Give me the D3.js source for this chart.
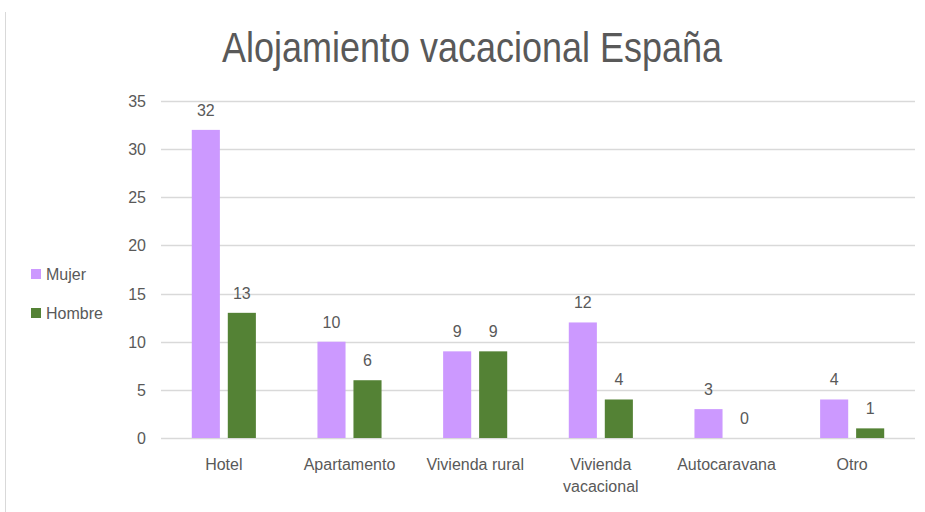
<!DOCTYPE html>
<html>
<head>
<meta charset="utf-8">
<script src="https://cdn.jsdelivr.net/npm/d3@7"></script>
<style>
  body { margin: 0; background: #fff; }
  text { font-family: "Liberation Sans", "DejaVu Sans", sans-serif; fill: #595959; }
</style>
</head>
<body>
<script>
const width = 925, height = 512;

// data
const categories = [["Hotel"], ["Apartamento"], ["Vivienda rural"], ["Vivienda", "vacacional"], ["Autocaravana"], ["Otro"]];
const seriesNames = ["Mujer", "Hombre"];
const mujer = [32, 10, 9, 12, 3, 4];
const hombre = [13, 6, 9, 4, 0, 1];
const yTicks = [0, 5, 10, 15, 20, 25, 30, 35];
const colors = ["#cc99ff", "#548235"];

let svg = d3.select("body").append("svg")
    .attr("width", width)
    .attr("height", height);

// frame edge on the left
svg.append("line")
    .attr("x1", 5.5).attr("x2", 5.5)
    .attr("y1", 12).attr("y2", height)
    .attr("stroke", "#d9d9d9");

svg.append("text")
    .attr("x", 472)
    .attr("y", 62)
    .attr("text-anchor", "middle")
    .attr("font-size", 42)
    .attr("textLength", 500)
    .attr("lengthAdjust", "spacingAndGlyphs")
    .text("Alojamiento vacacional España");

let idx = d3.range(categories.length);

let x0 = d3.scaleBand()
    .domain(idx)
    .range([161, 915])
    .paddingInner(0.49)
    .paddingOuter(0.245);

let x1 = d3.scaleBand()
    .domain([0, 1])
    .range([0, x0.bandwidth()])
    .paddingInner(0.22);

let y = d3.scaleLinear()
    .domain([0, 35])
    .range([438, 101]);

// gridlines
svg.append("g")
    .selectAll("line")
    .data(yTicks)
    .enter()
    .append("line")
    .attr("x1", 161)
    .attr("x2", 915)
    .attr("y1", d => Math.round(y(d)) + 0.5)
    .attr("y2", d => Math.round(y(d)) + 0.5)
    .attr("stroke", "#d9d9d9")
    .attr("stroke-width", 1.5);

// y tick labels
svg.append("g")
    .selectAll("text")
    .data(yTicks)
    .enter()
    .append("text")
    .attr("x", 146)
    .attr("y", d => y(d) + 6)
    .attr("text-anchor", "end")
    .attr("font-size", 16)
    .text(d => d);

let series = [mujer, hombre];

series.forEach((vals, s) => {
    let g = svg.append("g");
    g.selectAll("rect")
        .data(vals)
        .enter()
        .append("rect")
        .attr("x", (d, i) => x0(i) + x1(s))
        .attr("y", d => y(d))
        .attr("width", x1.bandwidth())
        .attr("height", d => y(0) - y(d))
        .attr("fill", colors[s]);

    g.selectAll("text")
        .data(vals)
        .enter()
        .append("text")
        .attr("x", (d, i) => x0(i) + x1(s) + x1.bandwidth() / 2)
        .attr("y", d => y(d) - 14)
        .attr("text-anchor", "middle")
        .attr("font-size", 16)
        .text(d => d);
});

// category labels
categories.forEach((lines, i) => {
    let t = svg.append("text")
        .attr("x", x0(i) + x0.bandwidth() / 2)
        .attr("y", 470)
        .attr("text-anchor", "middle")
        .attr("font-size", 16);
    lines.forEach((l, j) => {
        t.append("tspan")
            .attr("x", x0(i) + x0.bandwidth() / 2)
            .attr("dy", j == 0 ? 0 : 22)
            .text(l);
    });
});

// legend
let legend = svg.append("g");
seriesNames.forEach((name, i) => {
    legend.append("rect")
        .attr("x", 31)
        .attr("y", 269 + i * 39)
        .attr("width", 10)
        .attr("height", 10)
        .attr("fill", colors[i]);
    legend.append("text")
        .attr("x", 46)
        .attr("y", 280 + i * 39)
        .attr("font-size", 16)
        .text(name);
});
</script>
</body>
</html>
